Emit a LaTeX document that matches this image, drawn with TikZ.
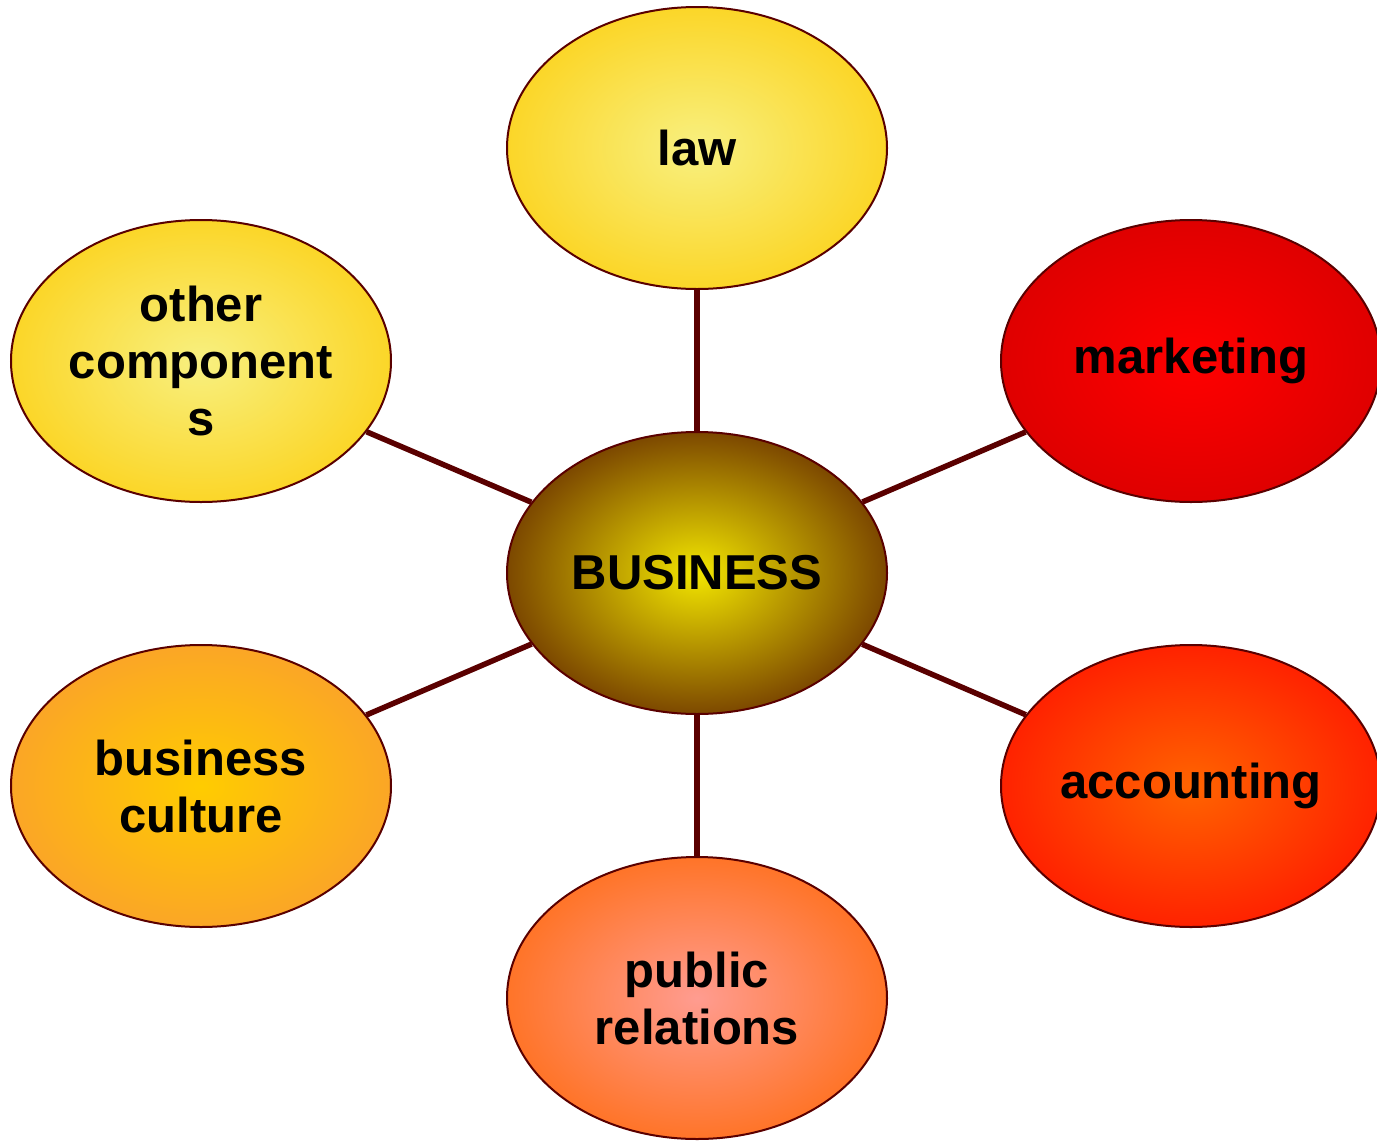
\documentclass[tikz,border=0pt]{standalone}
\usepackage{fontspec}
\setmainfont{Liberation Sans}
\usetikzlibrary{shapes.geometric}
\definecolor{edgecol}{HTML}{5A0000}
\definecolor{lawin}{HTML}{F8F080}
\definecolor{lawout}{HTML}{FBD628}
\definecolor{mkin}{HTML}{FF0000}
\definecolor{mkout}{HTML}{DF0000}
\definecolor{bzin}{HTML}{F2E600}
\definecolor{bzout}{HTML}{7C4800}
\definecolor{acin}{HTML}{FF6400}
\definecolor{acout}{HTML}{FF2200}
\definecolor{prin}{HTML}{FF9C90}
\definecolor{prout}{HTML}{FF7428}
\definecolor{bcin}{HTML}{FFCC00}
\definecolor{bcout}{HTML}{FBA626}
\tikzset{
  bubble/.style={ellipse, draw=edgecol, line width=2pt, minimum width=380pt,
    minimum height=282pt, inner sep=0pt, shading=radial, align=center,
    font=\fontsize{49}{57}\selectfont\bfseries},
  link/.style={draw=edgecol, line width=5.5pt}
}
\begin{document}
\begin{tikzpicture}[x=1pt,y=-1pt]
\useasboundingbox (0,0) rectangle (1377,1141);
\node[bubble, inner color=lawin, outer color=lawout] (law) at (697,148) {law};
\node[bubble, inner color=lawin, outer color=lawout] (other) at (201,361) {other\\component\\s};
\node[bubble, inner color=mkin, outer color=mkout] (mkt) at (1191,361) {\raisebox{-3pt}{marketing}};
\node[bubble, inner color=bzin, outer color=bzout] (biz) at (697,573) {\raisebox{-2pt}{BUSINESS}};
\node[bubble, inner color=bcin, outer color=bcout] (cult) at (201,786) {business\\culture};
\node[bubble, inner color=acin, outer color=acout] (acc) at (1191,786) {\raisebox{-3pt}{accounting}};
\node[bubble, inner color=prin, outer color=prout] (pr) at (697,998) {public\\relations};
\draw[link] (biz) -- (law);
\draw[link] (biz) -- (other);
\draw[link] (biz) -- (mkt);
\draw[link] (biz) -- (cult);
\draw[link] (biz) -- (acc);
\draw[link] (biz) -- (pr);
\end{tikzpicture}
\end{document}
